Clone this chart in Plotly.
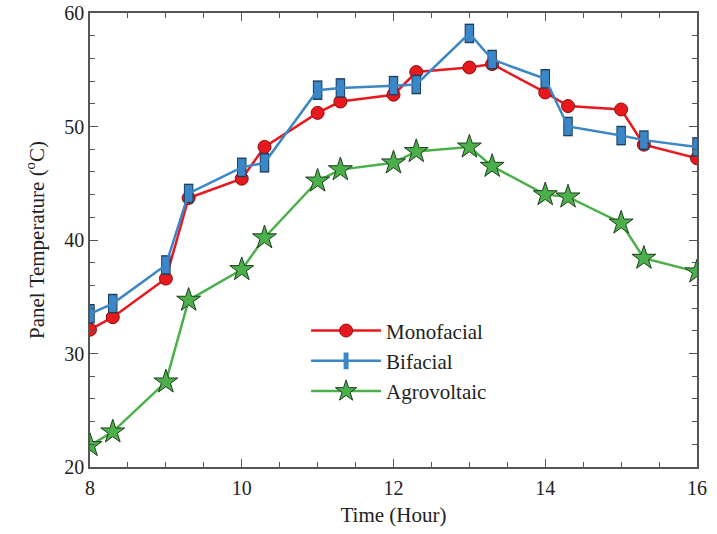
import plotly.graph_objects as go

time_h = [8, 8.3, 9, 9.3, 10, 10.3, 11, 11.3, 12, 12.3, 13, 13.3, 14, 14.3, 15, 15.3, 16]
monofacial = [32.1, 33.2, 36.6, 43.7, 45.4, 48.2, 51.2, 52.2, 52.8, 54.8, 55.2, 55.5, 53.0, 51.8, 51.5, 48.4, 47.2]
bifacial = [33.5, 34.4, 37.8, 44.1, 46.4, 46.8, 53.2, 53.4, 53.6, 53.7, 58.2, 55.9, 54.2, 50.0, 49.2, 48.8, 48.2]
agrovoltaic = [21.9, 23.1, 27.5, 34.7, 37.4, 40.2, 45.2, 46.2, 46.8, 47.8, 48.2, 46.5, 44.0, 43.8, 41.5, 38.4, 37.2]

RED = "#e8191e"
BLUE = "#3b86c6"
GREEN = "#4cb04a"
EDGE = "#333333"
FONT = "Liberation Serif"
TXT = "#222222"

fig = go.Figure()

fig.add_trace(go.Scatter(
    x=time_h, y=monofacial, mode="lines+markers", name="Monofacial",
    line=dict(color=RED, width=2.5),
    marker=dict(symbol="circle", size=13, color=RED, line=dict(color="#8a1010", width=1)),
))

# dark outline for the bar-shaped bifacial markers
fig.add_trace(go.Scatter(
    x=time_h, y=bifacial, mode="markers", showlegend=False, hoverinfo="skip",
    marker=dict(symbol="line-ns", size=14, color=EDGE, line=dict(color="#1d3f5e", width=9.5)),
))
fig.add_trace(go.Scatter(
    x=time_h, y=bifacial, mode="lines+markers", name="Bifacial",
    line=dict(color=BLUE, width=2.5),
    marker=dict(symbol="line-ns", size=12, color=BLUE, line=dict(color=BLUE, width=7.5)),
))

fig.add_trace(go.Scatter(
    x=time_h, y=agrovoltaic, mode="lines+markers", name="Agrovoltaic",
    line=dict(color=GREEN, width=2.5),
    marker=dict(symbol="star", size=18, color=GREEN, line=dict(color="#1f3d1f", width=1)),
))

axis_common = dict(
    showline=True, linecolor="#555555", linewidth=1.5, mirror="ticks",
    ticks="inside", ticklen=8, tickcolor="#555555", tickwidth=1.2,
    showgrid=False, zeroline=False, automargin=False,
    tickfont=dict(family=FONT, size=20, color=TXT),
)

fig.update_xaxes(
    range=[8, 16], dtick=2, tick0=8, ticklabelstandoff=2,
    minor=dict(dtick=0.5, ticks="inside", ticklen=5, tickcolor="#555555", tickwidth=1),
    title=dict(text="Time (Hour)", font=dict(family=FONT, size=21, color=TXT), standoff=10),
    **axis_common,
)
fig.update_yaxes(
    range=[20, 60], dtick=10, tick0=20,
    minor=dict(dtick=2, ticks="inside", ticklen=5, tickcolor="#555555", tickwidth=1),
    title=dict(text="Panel Temperature (<sup>o</sup>C)", font=dict(family=FONT, size=21, color=TXT), standoff=14),
    **axis_common,
)

fig.update_layout(
    width=717, height=534,
    margin=dict(l=90, r=20, t=13, b=67),
    paper_bgcolor="white", plot_bgcolor="white",
    showlegend=True,
    legend=dict(
        x=0.356, y=0.345, xanchor="left", yanchor="top",
        bgcolor="rgba(0,0,0,0)", borderwidth=0,
        font=dict(family=FONT, size=21, color=TXT),
        itemwidth=70, tracegroupgap=0,
    ),
)

fig.write_html("out.html")
